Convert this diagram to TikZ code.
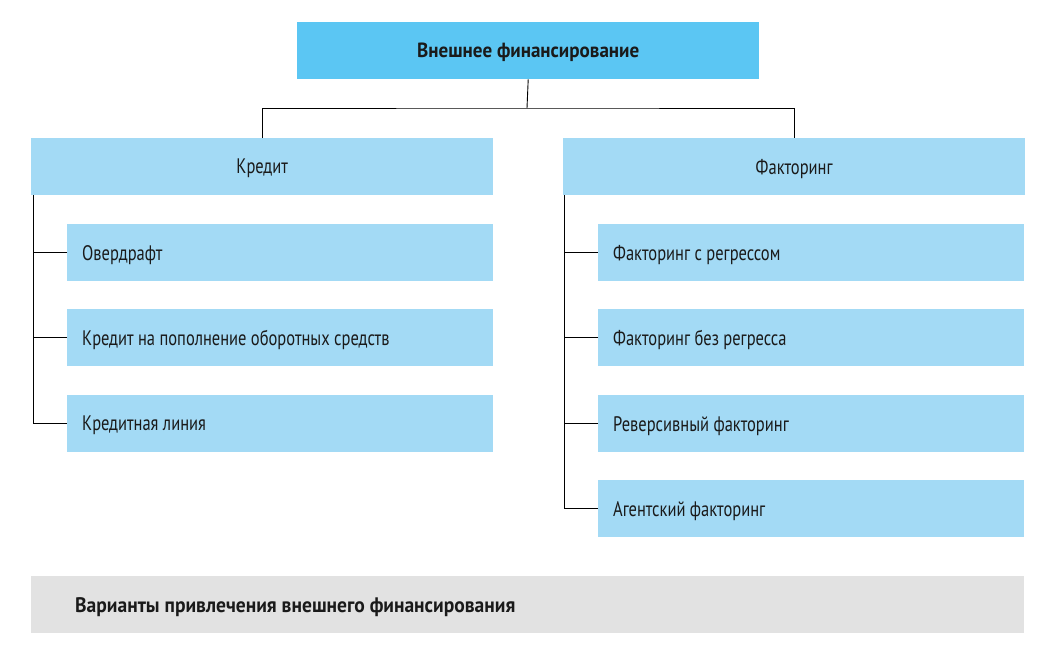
\documentclass[tikz,border=0pt]{standalone}
\usepackage{fontspec}
\setmainfont{PT Sans}[FakeStretch=0.785,BoldFeatures={FakeStretch=0.93}]
\definecolor{topblue}{HTML}{5BC6F3}
\definecolor{lightblue}{HTML}{A3DAF5}
\definecolor{greybox}{HTML}{E2E2E2}
\definecolor{txt}{HTML}{1A1A1A}
\begin{document}
\begin{tikzpicture}[x=1pt,y=-1pt,
  box/.style={draw=none,rectangle,inner sep=0pt,anchor=north west,text=txt,font=\fontsize{21}{24}\selectfont},
  headbox/.style={box,fill=lightblue,minimum width=462pt,minimum height=57pt},
  subbox/.style={box,fill=lightblue,minimum width=426pt,minimum height=57pt},
  label/.style={box,anchor=west},
  clabel/.style={box,anchor=center},
  conn/.style={draw=black,line width=0.9pt}]
\useasboundingbox (0,0) rectangle (1064,657);
\node[box,fill=topblue,minimum width=462pt,minimum height=57pt] (top) at (297,22) {};
\node[clabel,font=\bfseries\fontsize{20.5}{24}\selectfont] (topt) at ([yshift=-2pt]top.center) {Внешнее финансирование};
\node[headbox] (kredit) at (31,138) {};
\node[clabel] (kreditt) at ([yshift=-2pt]kredit.center) {Кредит};
\node[headbox] (fakt) at (563,138) {};
\node[clabel] (faktt) at ([yshift=-2pt]fakt.center) {Факторинг};
\foreach \n/\y/\t in {s1/224/Овердрафт,s2/309/Кредит на пополнение оборотных средств,s3/395/Кредитная линия}{
  \node[subbox] (\n) at (67,\y) {};
  \node[label] (\n t) at ([xshift=15pt,yshift=-2pt]\n.west) {\t};
}
\foreach \n/\y/\t in {f1/224/Факторинг с регрессом,f2/309/Факторинг без регресса,f3/395/Реверсивный факторинг,f4/480/Агентский факторинг}{
  \node[subbox] (\n) at (598,\y) {};
  \node[label] (\n t) at ([xshift=15pt,yshift=-2pt]\n.west) {\t};
}
\node[box,fill=greybox,minimum width=993pt,minimum height=57pt] (bottom) at (31,576) {};
\node[label,font=\bfseries\fontsize{21}{24}\selectfont] (bottomt) at ([xshift=44pt,yshift=-2pt]bottom.west) {Варианты привлечения внешнего финансирования};
\coordinate (j) at (527,108);
\draw[conn] (top.south) -- (j);
\draw[conn] (kredit.north) |- (j) -| (fakt.north);
\coordinate (lt) at (33,195);
\coordinate (rt) at (564,195);
\draw[conn] (lt) |- (s3.west);
\draw[conn] (s1.west) -- (s1.west -| lt);
\draw[conn] (s2.west) -- (s2.west -| lt);
\draw[conn] (rt) |- (f4.west);
\draw[conn] (f1.west) -- (f1.west -| rt);
\draw[conn] (f2.west) -- (f2.west -| rt);
\draw[conn] (f3.west) -- (f3.west -| rt);
\end{tikzpicture}
\end{document}
